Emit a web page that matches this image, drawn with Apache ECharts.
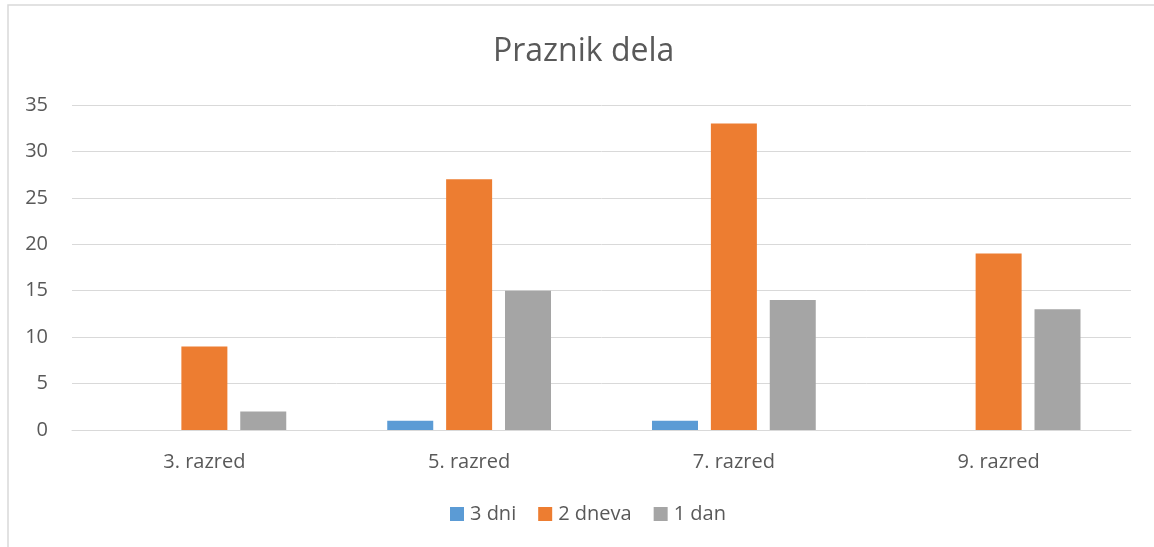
<!DOCTYPE html>
<html>
<head>
<meta charset="utf-8">
<script src="https://cdn.jsdelivr.net/npm/echarts@6/dist/echarts.min.js"></script>
<style>
  html, body { margin: 0; padding: 0; background: #fff; }
  #chart { width: 1154px; height: 547px; }
</style>
</head>
<body>
<div id="chart"></div>
<script>
const categories = ['3. razred', '5. razred', '7. razred', '9. razred']
const dni3 = [0, 1, 1, 0]
const dneva2 = [9, 27, 33, 19]
const dan1 = [2, 15, 14, 13]
const yTicks = { min: 0, max: 35, interval: 5 }

const font = '"Open Sans", "Liberation Sans", sans-serif'
const chart = echarts.init(document.getElementById('chart'))

const barSeries = (name, data, color) => ({
  name,
  type: 'bar',
  data,
  barWidth: 46,
  barGap: '28%',
  itemStyle: { color },
  emphasis: { disabled: true }
})

chart.setOption({
  animation: false,
  textStyle: { fontFamily: font },
  graphic: [{
    type: 'rect',
    shape: { x: 8, y: 5, width: 1170, height: 570 },
    style: { fill: 'none', stroke: '#d9d9d9', lineWidth: 1.5 },
    silent: true
  }],
  // chart frame starts at x=8, so title/legend sit a little right of page center
  title: {
    text: 'Praznik dela',
    left: 488,
    top: 31,
    textStyle: { fontFamily: font, fontSize: 32, fontWeight: 'normal', color: '#595959' }
  },
  legend: {
    data: ['3 dni', '2 dneva', '1 dan'],
    bottom: 18,
    left: 445,
    icon: 'rect',
    itemWidth: 14,
    itemHeight: 14,
    itemGap: 22,
    textStyle: { fontFamily: font, fontSize: 20, color: '#595959', padding: [0, 0, 0, 1] }
  },
  grid: { left: 72, right: 23, top: 105, bottom: 117 },
  xAxis: {
    type: 'category',
    data: categories,
    axisLine: { lineStyle: { color: '#d9d9d9', width: 1 } },
    axisTick: { show: false },
    axisLabel: { color: '#595959', fontSize: 20, margin: 22, fontFamily: font }
  },
  yAxis: {
    type: 'value',
    min: yTicks.min,
    max: yTicks.max,
    interval: yTicks.interval,
    axisLine: { show: false },
    axisTick: { show: false },
    splitLine: { lineStyle: { color: '#d9d9d9', width: 1 } },
    axisLabel: { color: '#595959', fontSize: 20, margin: 24, fontFamily: font }
  },
  series: [
    barSeries('3 dni', dni3, '#5b9bd5'),
    barSeries('2 dneva', dneva2, '#ed7d31'),
    barSeries('1 dan', dan1, '#a5a5a5')
  ]
})
</script>
</body>
</html>
